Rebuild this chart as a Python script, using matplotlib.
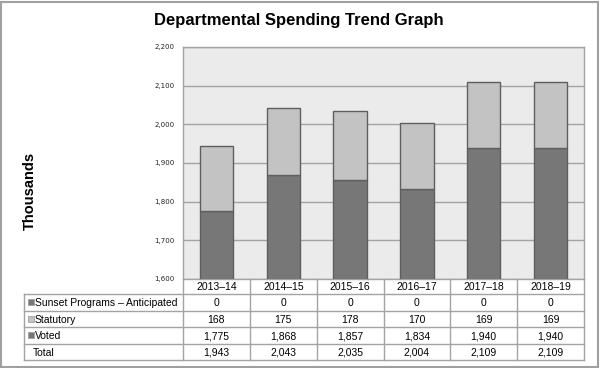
import matplotlib
matplotlib.use("Agg")
import matplotlib.pyplot as plt
import matplotlib.transforms as mtransforms
from matplotlib.patches import Rectangle

categories = ["2013–14", "2014–15", "2015–16", "2016–17", "2017–18", "2018–19"]
sunset = [0, 0, 0, 0, 0, 0]
statutory = [168, 175, 178, 170, 169, 169]
voted = [1775, 1868, 1857, 1834, 1940, 1940]
totals = [1943, 2043, 2035, 2004, 2109, 2109]
yticks = [1600, 1700, 1800, 1900, 2000, 2100, 2200]

row_labels = ["Sunset Programs – Anticipated", "Statutory", "Voted", "Total"]
c_voted = "#777777"
c_stat = "#c3c3c3"
c_sunset = "#777777"
edge = "#5e5e5e"
line_c = "#a3a3a3"

W, H = 600, 368
fig = plt.figure(figsize=(W / 100, H / 100), dpi=100)
plt.rcParams["font.family"] = ["Liberation Sans", "DejaVu Sans"]

def fy(py):
    return 1 - py / H

ax_l, ax_r, ax_t, ax_b = 183, 584, 47, 279
ax = fig.add_axes([ax_l / W, fy(ax_b), (ax_r - ax_l) / W, (ax_b - ax_t) / H])
ax.set_facecolor("#ebebeb")
x = list(range(len(categories)))
ax.bar(x, voted, width=0.5, color=c_voted, edgecolor=edge, linewidth=1, zorder=3)
ax.bar(x, statutory, bottom=voted, width=0.5, color=c_stat, edgecolor=edge, linewidth=1, zorder=3)
ax.set_xlim(-0.5, len(categories) - 0.5)
ax.set_ylim(1600, 2200)
ax.set_yticks(yticks)
ax.set_yticklabels([f"{v:,}" for v in yticks], fontsize=5, family="DejaVu Sans", color="#222222")
ax.tick_params(axis="y", length=0, pad=5.8)
ax.set_xticks([])
ax.grid(axis="y", color=line_c, linewidth=1, zorder=1)
for s in ax.spines.values():
    s.set_color(line_c)
    s.set_linewidth(1)

fig.text(299 / W, fy(21), "Departmental Spending Trend Graph", ha="center", va="center",
         fontsize=12, fontweight="bold")
fig.text(30 / W, fy(191), "Thousands", ha="center", va="center", rotation=90,
         fontsize=10.5, fontweight="bold")

# table
tr = mtransforms.blended_transform_factory(ax.transData, fig.transFigure)
n = len(categories)
px_per = (ax_r - ax_l) / n
left_data = -0.5 + (24 - ax_l) / px_per
row_edges = [279, 294, 310.5, 327, 343.5, 360]
fs = 7.5
va = "center_baseline"

def hline(py, x0, x1):
    ax.plot([x0, x1], [fy(py), fy(py)], transform=tr, color=line_c, lw=1, clip_on=False, zorder=5)

def vline(xd, py0, py1):
    ax.plot([xd, xd], [fy(py0), fy(py1)], transform=tr, color=line_c, lw=1, clip_on=False, zorder=5)

for py in row_edges[1:]:
    hline(py, left_data, n - 0.5)
for k in range(n + 1):
    vline(k - 0.5, row_edges[0], row_edges[-1])
vline(left_data, row_edges[1], row_edges[-1])

for i, c in enumerate(categories):
    ymid = (row_edges[0] + row_edges[1]) / 2
    ax.text(i, fy(ymid), c, transform=tr, ha="center", va=va, fontsize=fs)

rows = [sunset, statutory, voted, totals]
marker_cols = [c_sunset, c_stat, c_voted, None]
for r, (lab, vals, mc) in enumerate(zip(row_labels, rows, marker_cols)):
    ymid = (row_edges[r + 1] + row_edges[r + 2]) / 2
    for i, v in enumerate(vals):
        ax.text(i, fy(ymid), f"{v:,}", transform=tr, ha="center", va=va, fontsize=fs)
    if mc is not None:
        fig.add_artist(Rectangle((28 / W, fy(ymid + 3)), 6 / W, 6 / H, transform=fig.transFigure,
                                 facecolor=mc, edgecolor="#a0a0a0", lw=0.6))
        fig.text(35 / W, fy(ymid), lab, ha="left", va=va, fontsize=fs)
    else:
        fig.text(33 / W, fy(ymid), lab, ha="left", va=va, fontsize=fs)

# outer frame
fig.add_artist(Rectangle((1 / W, 1 / H), (W - 3) / W, (H - 3) / H, transform=fig.transFigure,
                         fill=False, edgecolor="#a0a0a0", lw=1.5))

fig.savefig("out.png", dpi=100)
